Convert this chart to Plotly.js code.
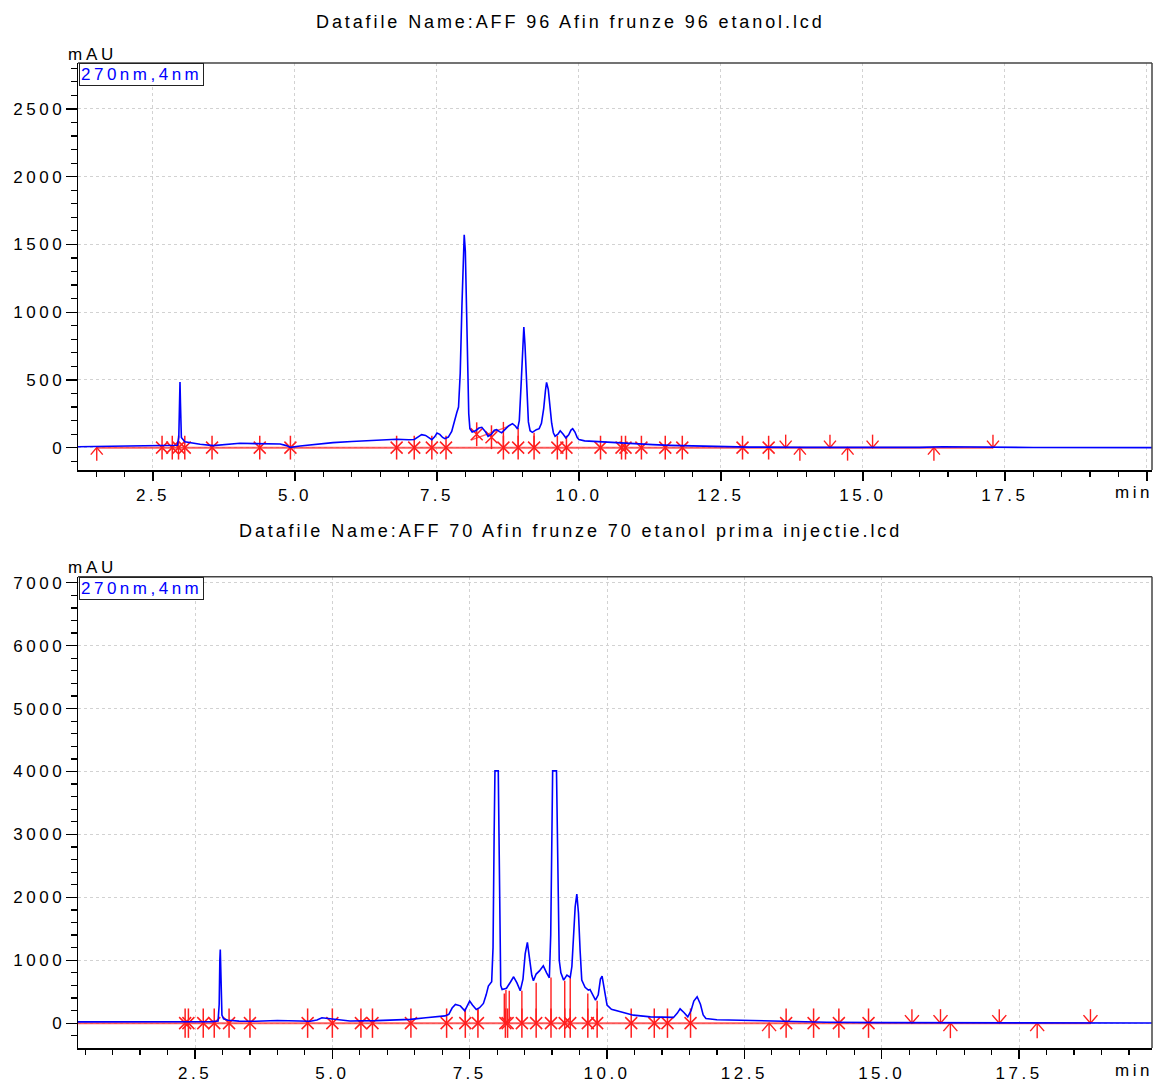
<!DOCTYPE html>
<html>
<head>
<meta charset="utf-8">
<script src="https://cdn.plot.ly/plotly-3.0.1.min.js"></script>
<style>
html,body{margin:0;padding:0;background:#fff;}
#chart{width:1154px;height:1082px;}
.xaxislayer-above text,.yaxislayer-above text{letter-spacing:3.5px;}
</style>
</head>
<body>
<div id="chart"></div>
<script>
// ---------------- DATA ----------------
const topTitle = 'Datafile Name:AFF 96 Afin frunze 96 etanol.lcd';
const bottomTitle = 'Datafile Name:AFF 70 Afin frunze 70 etanol prima injectie.lcd';
const channelLabel = '270nm,4nm';
const yUnit = 'mAU';
const xUnit = 'min';

// Top chromatogram (retention time, min ; absorbance, mAU)
const topTime = [
  1.18, 1.6, 2.0, 2.5, 2.8, 2.93, 2.955, 2.968, 2.976, 2.984,
  2.992, 3.0, 3.06, 3.2, 3.33, 3.56, 3.8, 4.03, 4.3, 4.5,
  4.74, 4.85, 4.92, 5.09, 5.4, 5.67, 6.0, 6.26, 6.5, 6.79,
  7.0, 7.1, 7.17, 7.23, 7.3, 7.36, 7.41, 7.46, 7.5, 7.55,
  7.6, 7.64, 7.7, 7.76, 7.81, 7.85, 7.88, 7.91, 7.94, 7.96,
  7.98, 8.0, 8.02, 8.04, 8.06, 8.08, 8.12, 8.18, 8.24, 8.29,
  8.35, 8.40, 8.46, 8.51, 8.55, 8.60, 8.64, 8.70, 8.76, 8.83,
  8.88, 8.92, 8.95, 8.98, 9.01, 9.03, 9.05, 9.08, 9.11, 9.14,
  9.18, 9.25, 9.30, 9.34, 9.38, 9.41, 9.43, 9.46, 9.49, 9.52,
  9.55, 9.58, 9.63, 9.67, 9.72, 9.77, 9.82, 9.86, 9.89, 9.93,
  9.97, 10.0, 10.1, 10.3, 10.5, 10.8, 11.0, 11.3, 11.6, 12.0,
  12.5, 13.0, 14.0, 15.0, 16.0, 16.4, 16.7, 17.0, 18.0, 20.1
];
const topMAU = [
  7, 9, 10, 12, 14, 18, 80, 330, 484, 330,
  140, 75, 44, 32, 25, 15, 22, 32, 30, 27,
  27, 15, 2, 12, 25, 37, 45, 52, 56, 62,
  58, 60, 80, 96, 90, 70, 59, 80, 108, 98,
  75, 66, 78, 120, 210, 260, 300, 550, 1050, 1400,
  1571, 1450, 1050, 560, 250, 140, 115, 125, 145, 150,
  120, 84, 100, 128, 133, 118, 110, 135, 160, 177,
  160, 138, 200, 450, 780, 890, 760, 420, 190, 125,
  113, 133, 140, 180, 290, 420, 482, 430, 300, 180,
  110, 84, 100, 125, 100, 72, 95, 130, 140, 115,
  75, 59, 50, 45, 42, 35, 25, 22, 17, 12,
  7, 4, 2, 1, 2, 7, 5, 3, 1, 0
];
// Top peak-integration marks
const topBaseline = [1.51, 17.29];
const topStars = [2.66, 2.84, 2.95, 3.06, 3.54, 4.38, 4.92, 6.79, 7.10, 7.41, 7.66, 8.67, 8.93, 9.21, 9.62, 9.78, 10.38, 10.75, 10.82, 11.10, 11.52, 11.82, 12.88, 13.34];
const topRaisedStarT = [8.20, 8.46];
const topRaisedStarY = [99, 77];
const topSlopeT = [8.11, 8.76];
const topSlopeY = [57, 157];
const topDropT = [8.67, 8.93, 9.21];
const topDropY = [190, 145, 110];
const topUpArrows = [1.51, 13.89, 14.73, 16.25];
const topDownArrows = [13.64, 14.42, 15.17, 17.29];

// Bottom chromatogram
const botTime = [
  0.37, 1.0, 1.5, 2.0, 2.5, 2.8, 2.92, 2.94, 2.952, 2.96,
  2.968, 2.978, 2.99, 3.02, 3.1, 3.3, 3.6, 4.0, 4.3, 4.6,
  4.72, 4.81, 4.92, 5.08, 5.32, 5.8, 6.2, 6.42, 6.7, 6.9,
  7.05, 7.12, 7.18, 7.24, 7.33, 7.41, 7.46, 7.50, 7.55, 7.62,
  7.68, 7.75, 7.80, 7.84, 7.90, 7.925, 7.945, 7.96, 8.02, 8.035,
  8.05, 8.065, 8.09, 8.13, 8.17, 8.24, 8.30, 8.36, 8.42, 8.47,
  8.51, 8.55, 8.59, 8.63, 8.66, 8.71, 8.77, 8.84, 8.90, 8.95,
  8.975, 8.995, 9.01, 9.08, 9.095, 9.11, 9.13, 9.16, 9.21, 9.27,
  9.33, 9.36, 9.39, 9.42, 9.45, 9.48, 9.51, 9.54, 9.60, 9.66,
  9.69, 9.74, 9.79, 9.84, 9.88, 9.91, 9.95, 10.0, 10.08, 10.18,
  10.48, 10.79, 11.21, 11.28, 11.33, 11.40, 11.47, 11.53, 11.58, 11.64,
  11.70, 11.75, 11.80, 12.0, 12.3, 12.6, 13.0, 14.0, 15.0, 16.0,
  17.0, 18.0, 19.95
];
const botMAU = [
  20, 20, 20, 20, 22, 25, 35, 300, 1000, 1170,
  900, 350, 130, 70, 45, 32, 30, 42, 32, 30,
  50, 85, 75, 60, 35, 40, 50, 60, 85, 105,
  115, 140, 240, 297, 275, 196, 280, 350, 290, 218,
  245, 313, 450, 589, 657, 1200, 3000, 4010, 4010, 3000,
  1300, 600, 536, 540, 555, 650, 737, 640, 514, 700,
  1100, 1284, 1050, 760, 673, 780, 830, 911, 800, 721,
  1400, 3200, 4010, 4010, 3200, 1800, 1000, 800, 684, 764,
  727, 900, 1480, 1850, 2052, 1750, 1150, 684, 570, 525,
  536, 460, 366, 450, 700, 748, 550, 286, 220, 196,
  127, 100, 91, 160, 228, 170, 100, 200, 350, 419,
  300, 130, 75, 55, 48, 37, 30, 15, 8, 5,
  3, 2, 2
];
const botBaseline = [0.37, 18.80];
const botStars = [2.32, 2.38, 2.65, 2.85, 3.12, 3.50, 4.55, 5.00, 5.52, 5.73, 6.43, 7.08, 7.42, 7.65, 8.15, 8.19, 8.45, 8.71, 8.98, 9.23, 9.33, 9.65, 9.82, 10.44, 10.86, 11.10, 11.52, 13.26, 13.76, 14.22, 14.76];
const botDropT = [7.42, 7.65, 8.13, 8.16, 8.22, 8.45, 8.71, 8.98, 9.23, 9.33, 9.65, 9.82];
const botDropY = [207, 218, 470, 525, 515, 514, 641, 727, 673, 727, 473, 355];
const botUpArrows = [12.95, 16.25, 17.83];
const botDownArrows = [15.55, 16.07, 17.14, 18.80];

// tick labels
const topXTickVals = [2.5, 5, 7.5, 10, 12.5, 15, 17.5, 20];
const topXTickText = ['2.5', '5.0', '7.5', '10.0', '12.5', '15.0', '17.5', ''];
const botXTickVals = [2.5, 5, 7.5, 10, 12.5, 15, 17.5];
const botXTickText = ['2.5', '5.0', '7.5', '10.0', '12.5', '15.0', '17.5'];

// ---------------- LAYOUT GEOMETRY ----------------
const W = 1154, H = 1082;
const M = {l: 78, r: 2, t: 63, b: 34};
const plotW = W - M.l - M.r, plotH = H - M.t - M.b;
const topDomain = [(1048 - 470) / plotH, 1];
const botDomain = [0, (1048 - 576.7) / plotH];
const TOP_X = [1.18, 20.09], TOP_Y = [-165, 2839];
const BOT_X = [0.37, 19.92], BOT_Y = [-395, 7096];

const RED = '#ff1e1e';
const BASE_RED = 'rgba(255,40,40,0.75)';
const BLUE = '#0000ff';
const FONT = '"Liberation Sans", Arial, sans-serif';
const FS = 17;

function spaced(t, ls) { return '<span style="letter-spacing:' + ls + 'px">' + t + '</span>'; }

function upp(range, px) { return (range[1] - range[0]) / px; }
const topUx = upp(TOP_X, plotW), topUy = upp(TOP_Y, (topDomain[1] - topDomain[0]) * plotH);
const botUx = upp(BOT_X, plotW), botUy = upp(BOT_Y, (botDomain[1] - botDomain[0]) * plotH);

function arrowPaths(xs, side, ux, uy, shaft, hw, hh) {
  // side -1: body below baseline (points up); +1: body above (points down)
  const X = [], Y = [];
  xs.forEach(x => {
    X.push(x, x, null, x - hw * ux, x, x + hw * ux, null);
    Y.push(0, side * shaft * uy, null, side * hh * uy, 0, side * hh * uy, null);
  });
  return {X, Y};
}
function dropPaths(xs, ys) {
  const X = [], Y = [];
  xs.forEach((x, i) => { X.push(x, x, null); Y.push(0, ys[i], null); });
  return {X, Y};
}

function starTraces(xs, ys, xa, ya, vsize, xsize) {
  return [
    {x: xs, y: ys, xaxis: xa, yaxis: ya, mode: 'markers', hoverinfo: 'skip',
     marker: {symbol: 'line-ns-open', size: vsize, color: RED, line: {color: RED, width: 1.5}}},
    {x: xs, y: ys, xaxis: xa, yaxis: ya, mode: 'markers', hoverinfo: 'skip',
     marker: {symbol: 'x-thin-open', size: xsize, color: RED, line: {color: RED, width: 1.5}}}
  ];
}
function lineTrace(X, Y, xa, ya, color, width) {
  return {x: X, y: Y, xaxis: xa, yaxis: ya, mode: 'lines', hoverinfo: 'skip',
          line: {color: color, width: width}, connectgaps: false};
}

const traces = [];
// top
traces.push(lineTrace(topBaseline, topBaseline.map(() => 0), 'x', 'y', BASE_RED, 2));
traces.push(lineTrace(topSlopeT, topSlopeY, 'x', 'y', BASE_RED, 1.5));
let d = dropPaths(topDropT, topDropY);
traces.push(lineTrace(d.X, d.Y, 'x', 'y', RED, 1.4));
let a = arrowPaths(topUpArrows, -1, topUx, topUy, 13, 6, 7);
traces.push(lineTrace(a.X, a.Y, 'x', 'y', RED, 1.4));
a = arrowPaths(topDownArrows, 1, topUx, topUy, 13, 6, 7);
traces.push(lineTrace(a.X, a.Y, 'x', 'y', RED, 1.4));
traces.push(...starTraces(topStars, topStars.map(() => 0), 'x', 'y', 17, 12));
traces.push(...starTraces(topRaisedStarT, topRaisedStarY, 'x', 'y', 17, 12));
traces.push(lineTrace(topTime, topMAU, 'x', 'y', BLUE, 1.6));
// bottom
traces.push(lineTrace(botBaseline, botBaseline.map(() => 0), 'x2', 'y2', BASE_RED, 2));
d = dropPaths(botDropT, botDropY);
traces.push(lineTrace(d.X, d.Y, 'x2', 'y2', RED, 1.4));
a = arrowPaths(botUpArrows, -1, botUx, botUy, 15, 7, 8);
traces.push(lineTrace(a.X, a.Y, 'x2', 'y2', RED, 1.4));
a = arrowPaths(botDownArrows, 1, botUx, botUy, 14, 7, 8);
traces.push(lineTrace(a.X, a.Y, 'x2', 'y2', RED, 1.4));
traces.push(...starTraces(botStars, botStars.map(() => 0), 'x2', 'y2', 21, 12));
traces.push(lineTrace(botTime, botMAU, 'x2', 'y2', BLUE, 1.6));

const gridCommon = {showgrid: true, gridcolor: '#d2d2d2', griddash: 'dot', gridwidth: 1, zeroline: false,
  showline: true, linecolor: '#000', linewidth: 1.5, ticks: 'outside', tickcolor: '#000', tickwidth: 1.3,
  tickfont: {family: FONT, size: FS, color: '#000'}, fixedrange: true};

const layout = {
  width: W, height: H, margin: M, paper_bgcolor: '#fff', plot_bgcolor: '#fff', showlegend: false,
  font: {family: FONT, size: FS, color: '#000'},
  xaxis: Object.assign({}, gridCommon, {domain: [0, 1], anchor: 'y', range: TOP_X, tickmode: 'array',
    tickvals: topXTickVals, ticktext: topXTickText, ticklen: 9,
    minor: {tickmode: 'linear', tick0: 0, dtick: 0.5, ticks: 'outside', ticklen: 5, tickwidth: 1.2, tickcolor: '#000', showgrid: false}}),
  yaxis: Object.assign({}, gridCommon, {domain: topDomain, anchor: 'x', range: TOP_Y, tick0: 0, dtick: 500, ticklen: 11,
    ticklabelstandoff: -3,
    minor: {tickmode: 'linear', tick0: 0, dtick: 100, ticks: 'outside', ticklen: 6, tickwidth: 1.2, tickcolor: '#000', showgrid: false}}),
  xaxis2: Object.assign({}, gridCommon, {domain: [0, 1], anchor: 'y2', range: BOT_X, tickmode: 'array',
    tickvals: botXTickVals, ticktext: botXTickText, ticklen: 9,
    minor: {tickmode: 'linear', tick0: 0, dtick: 0.5, ticks: 'outside', ticklen: 5, tickwidth: 1.2, tickcolor: '#000', showgrid: false}}),
  yaxis2: Object.assign({}, gridCommon, {domain: botDomain, anchor: 'x2', range: BOT_Y, tick0: 0, dtick: 1000, ticklen: 11,
    ticklabelstandoff: -3,
    minor: {tickmode: 'linear', tick0: 0, dtick: 200, ticks: 'outside', ticklen: 6, tickwidth: 1.2, tickcolor: '#000', showgrid: false}}),
  shapes: [
    {type: 'line', xref: 'x domain', yref: 'y domain', x0: 0, x1: 1, y0: 1, y1: 1, line: {color: '#444', width: 1.5}},
    {type: 'line', xref: 'x domain', yref: 'y domain', x0: 1, x1: 1, y0: 0, y1: 1, line: {color: '#444', width: 1.5}},
    {type: 'line', xref: 'x2 domain', yref: 'y2 domain', x0: 0, x1: 1, y0: 1, y1: 1, line: {color: '#444', width: 1.5}},
    {type: 'line', xref: 'x2 domain', yref: 'y2 domain', x0: 1, x1: 1, y0: 0, y1: 1, line: {color: '#444', width: 1.5}}
  ],
  annotations: [
    {text: spaced(topTitle, 2.9), xref: 'paper', yref: 'paper', x: (570 - M.l) / plotW, y: (1048 - 22) / plotH,
     xanchor: 'center', yanchor: 'middle', showarrow: false, font: {family: FONT, size: 18, color: '#000'}},
    {text: spaced(bottomTitle, 2.9), xref: 'paper', yref: 'paper', x: (570 - M.l) / plotW, y: (1048 - 531) / plotH,
     xanchor: 'center', yanchor: 'middle', showarrow: false, font: {family: FONT, size: 18, color: '#000'}},
    {text: spaced(yUnit, 3.8), xref: 'x domain', yref: 'y domain', x: 0, y: 1, xanchor: 'center', yanchor: 'bottom',
     xshift: 14, yshift: -3, showarrow: false, font: {family: FONT, size: FS, color: '#000'}},
    {text: spaced(yUnit, 3.8), xref: 'x2 domain', yref: 'y2 domain', x: 0, y: 1, xanchor: 'center', yanchor: 'bottom',
     xshift: 14, yshift: -2, showarrow: false, font: {family: FONT, size: FS, color: '#000'}},
    {text: spaced(channelLabel, 3.5), xref: 'x domain', yref: 'y domain', x: 0, y: 1, xanchor: 'left', yanchor: 'top',
     xshift: 1, showarrow: false, bgcolor: '#fff', bordercolor: '#222', borderwidth: 1, borderpad: 1,
     font: {family: FONT, size: FS, color: BLUE}},
    {text: spaced(channelLabel, 3.5), xref: 'x2 domain', yref: 'y2 domain', x: 0, y: 1, xanchor: 'left', yanchor: 'top',
     xshift: 1, showarrow: false, bgcolor: '#fff', bordercolor: '#222', borderwidth: 1, borderpad: 1,
     font: {family: FONT, size: FS, color: BLUE}},
    {text: spaced(xUnit, 3.5), xref: 'x domain', yref: 'y domain', x: 1, y: 0, xanchor: 'right', yanchor: 'top',
     xshift: 3, yshift: -11, showarrow: false, font: {family: FONT, size: FS, color: '#000'}},
    {text: spaced(xUnit, 3.5), xref: 'x2 domain', yref: 'y2 domain', x: 1, y: 0, xanchor: 'right', yanchor: 'top',
     xshift: 3, yshift: -11, showarrow: false, font: {family: FONT, size: FS, color: '#000'}}
  ]
};

Plotly.newPlot('chart', traces, layout, {staticPlot: true, displayModeBar: false});
</script>
</body>
</html>
